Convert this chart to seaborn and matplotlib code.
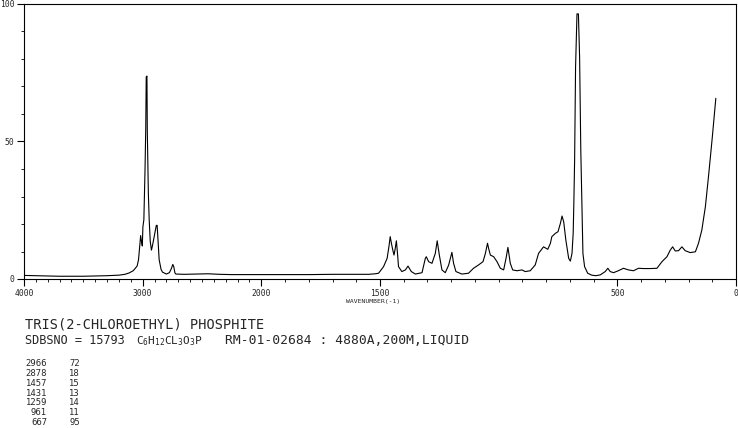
import numpy as np
import matplotlib
matplotlib.use('Agg')
import matplotlib.pyplot as plt
import seaborn as sns

# Raman spectrum (wavenumber in cm-1, relative intensity)
wavenumber = [
    4000, 3900, 3800, 3700, 3600, 3500, 3400, 3300, 3200, 3150, 3114, 3080,
    3060, 3046, 3035, 3025, 3017, 3010, 3003, 2998, 2990, 2980, 2974, 2970,
    2964, 2961, 2952, 2945, 2936, 2926, 2918, 2909, 2895, 2885, 2878, 2872,
    2861, 2845, 2833, 2800, 2775, 2758, 2746, 2738, 2728, 2720, 2650, 2550,
    2450, 2350, 2250, 2150, 2050, 2000, 1900, 1800, 1700, 1600, 1548, 1520,
    1506, 1485, 1470, 1462, 1457, 1452, 1446, 1441, 1436, 1431, 1426, 1422,
    1408, 1393, 1382, 1368, 1351, 1323, 1309, 1305, 1295, 1281, 1267, 1259,
    1250, 1239, 1225, 1211, 1197, 1190, 1180, 1155, 1127, 1106, 1085, 1066,
    1056, 1047, 1042, 1035, 1021, 1007, 993, 979, 969, 961, 951, 941,
    923, 902, 888, 867, 846, 832, 811, 793, 782, 776, 761, 750,
    740, 733, 726, 717, 705, 698, 691, 686, 683, 680, 676, 670,
    664, 659, 654, 649, 645, 638, 625, 608, 590, 572, 551, 540,
    530, 516, 496, 474, 453, 432, 411, 390, 361, 333, 312, 291,
    277, 267, 256, 242, 228, 214, 193, 171, 158, 144, 129, 116,
    101, 91, 85,
]
intensity = [
    1.3, 1.2, 1.1, 1.0, 1.0, 1.0, 1.1, 1.2, 1.4, 1.7, 2.2, 3.0,
    4.0, 4.8, 7.0, 11.7, 15.8, 13.6, 12.0, 19.0, 21.5, 40.0, 55.0, 73.5,
    73.8, 54.0, 31.0, 21.5, 13.6, 10.5, 12.0, 14.0, 17.0, 19.5, 19.5, 15.0,
    7.0, 3.5, 2.5, 1.8, 2.3, 3.8, 5.3, 4.5, 2.2, 1.8, 1.7, 1.8,
    1.9, 1.7, 1.6, 1.6, 1.6, 1.6, 1.6, 1.6, 1.7, 1.7, 1.7, 1.9,
    2.1, 4.5, 7.5, 12.0, 15.4, 13.0, 10.5, 8.7, 11.0, 13.9, 9.0, 4.5,
    2.7, 3.3, 4.7, 2.7, 1.8, 2.3, 7.5, 8.1, 6.3, 5.7, 9.3, 13.9,
    8.7, 3.3, 2.3, 5.0, 9.7, 5.7, 2.7, 1.8, 2.1, 3.9, 5.1, 6.3,
    9.3, 13.0, 11.0, 8.7, 8.1, 6.3, 3.9, 3.3, 7.5, 11.5, 5.7, 3.3,
    3.0, 3.3, 2.7, 3.0, 5.1, 9.3, 11.7, 10.8, 13.0, 15.4, 16.6, 17.2,
    20.2, 22.9, 20.8, 14.2, 7.5, 6.5, 9.3, 16.7, 28.7, 43.0, 77.0, 96.4,
    96.4, 80.8, 47.0, 25.0, 9.3, 4.5, 2.1, 1.4, 1.2, 1.5, 2.7, 3.9,
    2.7, 2.3, 3.0, 3.9, 3.3, 3.0, 3.9, 3.8, 3.8, 3.9, 6.3, 8.1,
    10.5, 11.7, 10.2, 10.3, 11.7, 10.3, 9.6, 9.9, 13.0, 17.8, 26.3, 37.2,
    50.5, 60.2, 65.7,
]

x_major = [4000, 3000, 2000, 1500, 500, 0]
y_major = [0, 50, 100]

peak_wn = ['2966', '2878', '1457', '1431', '1259', '961', '667']
peak_int = ['72', '18', '15', '13', '14', '11', '95']

title = 'TRIS(2-CHLOROETHYL) PHOSPHITE'
sdbs_no = 'SDBSNO = 15793'
formula = r'C$_6$H$_{12}$CL$_3$O$_3$P'
conditions = 'RM-01-02684 : 4880A,200M,LIQUID'

sns.set_style('ticks')
plt.rcParams['font.family'] = ['DejaVu Sans Mono']
plt.rcParams['mathtext.fontset'] = 'custom'
plt.rcParams['mathtext.rm'] = 'DejaVu Sans Mono'
plt.rcParams['mathtext.default'] = 'rm'

W, H = 738, 428
fig = plt.figure(figsize=(W / 100, H / 100), dpi=100)
ax = fig.add_axes([24 / W, 149 / H, 712 / W, 275 / H])


# region above 2000 cm-1 is drawn at half scale
def fwd(w):
    w = np.asarray(w, dtype=float)
    return np.where(w <= 2000, w, 2000 + (w - 2000) / 2)


def inv(t):
    t = np.asarray(t, dtype=float)
    return np.where(t <= 2000, t, 2000 + (t - 2000) * 2)


ax.set_xscale('function', functions=(fwd, inv))

sns.lineplot(x=wavenumber, y=intensity, color='black', linewidth=0.8,
             estimator=None, sort=False, ax=ax)

ax.set_xlim(4000, 0)
ax.set_ylim(0, 100)
ax.set_xticks(x_major)
ax.set_xticklabels([str(v) for v in x_major])
ax.set_xticks([v for v in range(0, 4001, 100) if v not in x_major], minor=True)
ax.set_yticks(y_major)
ax.set_yticklabels([str(v) for v in y_major])
ax.set_yticks(range(0, 101, 10), minor=True)
ax.tick_params(axis='both', which='major', direction='out', length=5,
               width=0.8, labelsize=5.8, color='black', pad=2)
ax.tick_params(axis='both', which='minor', direction='out', length=2.5,
               width=0.6, color='black')
for s in ax.spines.values():
    s.set_visible(True)
    s.set_color('black')
    s.set_linewidth(0.8)
ax.set_xlabel('')
ax.set_ylabel('')


def px(x, y):
    return x / W, 1 - y / H


fig.text(*px(373, 301), 'WAVENUMBER(-1)', fontsize=4.6, ha='center', va='center')
fig.text(*px(25, 324), title, fontsize=9.8, ha='left', va='center')
fig.text(*px(25, 340), sdbs_no, fontsize=8.6, ha='left', va='center')
fig.text(*px(136, 341), formula, fontsize=8.0, ha='left', va='center')
fig.text(*px(225, 340), conditions, fontsize=9.4, ha='left', va='center')

for i, (w, v) in enumerate(zip(peak_wn, peak_int)):
    y = 364 + i * 9.7
    fig.text(*px(47, y), w, fontsize=6.4, ha='right', va='center')
    fig.text(*px(80, y), v, fontsize=6.4, ha='right', va='center')

fig.savefig('out.png', dpi=100, facecolor='white')
